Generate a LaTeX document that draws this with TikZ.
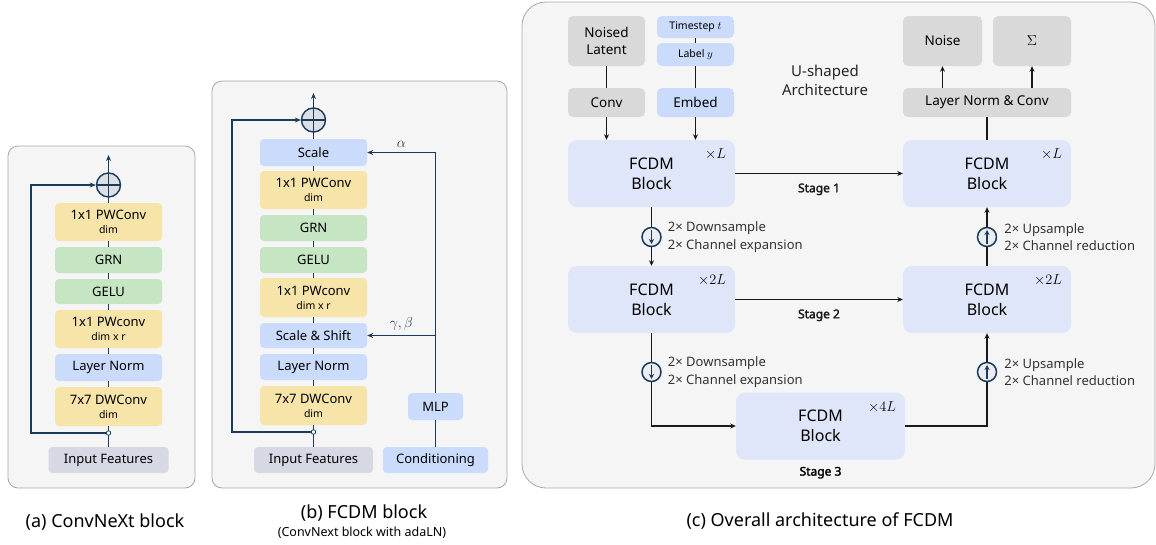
\documentclass[tikz,border=0pt]{standalone}
\usepackage{fontspec}
\setmainfont{Noto Sans}
\newfontface\stagefont{Noto Sans}[FakeBold=2.2]
\usetikzlibrary{arrows.meta, calc}
\definecolor{panelbg}{HTML}{F5F5F5}
\definecolor{panelline}{HTML}{A8A8A8}
\definecolor{convylw}{HTML}{F6E4A9}
\definecolor{actgrn}{HTML}{C6E5C2}
\definecolor{normblu}{HTML}{CADBFB}
\definecolor{fcdmblu}{HTML}{DFE6FA}
\definecolor{iogry}{HTML}{D9D9D9}
\definecolor{inpgry}{HTML}{D6D8E3}
\definecolor{navy}{HTML}{1B3A5C}
\definecolor{plusfill}{HTML}{DCDFE4}
\newcommand{\subtxt}[1]{{\fontsize{10.5}{11}\selectfont #1}}

\begin{document}
\begin{tikzpicture}[x=1pt, y=-1pt,
    box/.style={rounded corners=4pt, inner sep=0pt, align=center, minimum width=107pt, font=\fontsize{13}{14}\selectfont},
    conv/.style={box, fill=convylw, minimum height=38pt},
    act/.style={box, fill=actgrn, minimum height=26pt},
    norm/.style={box, fill=normblu, minimum height=26pt},
    inbox/.style={box, fill=inpgry, minimum width=120pt, minimum height=26pt},
    spine/.style={navy, line width=1.4pt},
    skip/.style={navy, line width=1.4pt, -{Stealth[length=6pt, width=5pt]}},
    plus/.style={circle, draw=navy, line width=1.4pt, fill=plusfill, minimum size=24pt, inner sep=0pt},
    tap/.style={circle, draw=navy, line width=0.8pt, fill=white, minimum size=4.5pt, inner sep=0pt},
    fcdm/.style={rounded corners=9pt, fill=fcdmblu, minimum width=167pt, minimum height=67pt, inner sep=0pt, align=center, font=\fontsize{16}{20}\selectfont},
    io/.style={rounded corners=5pt, fill=iogry, inner sep=0pt, align=center, font=\fontsize{13.5}{17}\selectfont},
    emb/.style={io, fill=normblu},
    flow/.style={black!90, line width=1.4pt},
    flowarr/.style={flow, -{Stealth[length=5.5pt, width=5pt]}},
    samp/.style={circle, draw=navy, line width=1.5pt, fill=plusfill!60, minimum size=19pt, inner sep=0pt},
    rep/.style={anchor=north east, inner sep=0pt, font=\fontsize{13.5}{14}\selectfont},
    stage/.style={font=\fontsize{12}{12}\stagefont},
    greek/.style={font=\fontsize{14}{14}\selectfont},
    note/.style={anchor=west, align=left, inner sep=0pt, font=\fontsize{13}{17.5}\selectfont, text=black!80},
    captxt/.style={font=\fontsize{18}{18}\selectfont}
  ]
  \useasboundingbox (0,0) rectangle (1156,544);

  % panels
  \draw[panelline, fill=panelbg, rounded corners=10pt, line width=0.8pt] (8,146) rectangle (195,488);
  \draw[panelline, fill=panelbg, rounded corners=10pt, line width=0.8pt] (212,81) rectangle (507,488);
  \draw[panelline, fill=panelbg, rounded corners=24pt, line width=0.8pt] (522,2) rectangle (1155,488);

  % (a) ConvNeXt block
  \node[conv] (pw1a) at (108.5,222) {1x1 PWConv\\\subtxt{dim}};
  \node[act] (grna) at (108.5,260) {GRN};
  \node[act, minimum height=25pt] (gelua) at (108.5,291.5) {GELU};
  \node[conv] (pw2a) at (108.5,329) {1x1 PWconv\\\subtxt{dim x r}};
  \node[norm, minimum height=27pt] (lna) at (108.5,367.5) {Layer Norm};
  \node[conv, minimum height=39pt] (dwa) at (108.5,406.5) {7x7 DWConv\\\subtxt{dim}};
  \node[inbox] (inpa) at (108.5,460) {Input Features};
  \node[plus] (plusa) at (108.5,185) {};
  \coordinate (outa) at (108.5,155);
  \coordinate (loopa) at (31,433);
  \foreach \u/\v in {inpa/dwa, dwa/lna, lna/pw2a, pw2a/gelua, gelua/grna, grna/pw1a, pw1a/plusa}
    \draw[spine] (\u) -- (\v);
  \node[tap] (tapa) at (108.5,433) {};
  \draw[skip] (tapa) -- (loopa) |- (plusa);
  \draw[spine] (plusa.north) -- (plusa.south) (plusa.west) -- (plusa.east);
  \draw[skip] (plusa.north) -- (outa);

  % (b) FCDM block
  \node[norm, minimum height=27pt] (scaleb) at (313.5,152.5) {Scale};
  \node[conv] (pw1b) at (313.5,190) {1x1 PWConv\\\subtxt{dim}};
  \node[act] (grnb) at (313.5,228) {GRN};
  \node[act] (gelub) at (313.5,260) {GELU};
  \node[conv, minimum height=39pt] (pw2b) at (313.5,297.5) {1x1 PWconv\\\subtxt{dim x r}};
  \node[norm, minimum height=25pt] (ssb) at (313.5,335.5) {Scale \& Shift};
  \node[norm] (lnb) at (313.5,367) {Layer Norm};
  \node[conv, minimum height=39pt] (dwb) at (313.5,405.5) {7x7 DWConv\\\subtxt{dim}};
  \node[inbox, minimum width=119pt] (inpb) at (313.5,460) {Input Features};
  \node[norm, minimum width=105pt] (condb) at (435.5,460) {Conditioning};
  \node[norm, minimum width=55pt, minimum height=27pt] (mlpb) at (435.5,406.5) {MLP};
  \node[plus] (plusb) at (313.5,120) {};
  \coordinate (outb) at (313.5,93);
  \coordinate (loopb) at (232,432);
  \foreach \u/\v in {inpb/dwb, dwb/lnb, lnb/ssb, ssb/pw2b, pw2b/gelub, gelub/grnb, grnb/pw1b, pw1b/scaleb, scaleb/plusb}
    \draw[spine] (\u) -- (\v);
  \node[tap] (tapb) at (313.5,432) {};
  \draw[skip] (tapb) -- (loopb) |- (plusb);
  \draw[spine] (plusb.north) -- (plusb.south) (plusb.west) -- (plusb.east);
  \draw[skip] (plusb.north) -- (outb);
  \draw[spine] (condb) -- (mlpb);
  \draw[skip] (mlpb.north) |- (scaleb.east) node[pos=0.75, above=1pt, greek] (alphab) {$\alpha$};
  \draw[skip] (mlpb.north |- ssb.east) -- (ssb.east) node[midway, above=1pt, greek] (gbb) {$\gamma, \beta$};

  % (c) overall architecture
  \node[io, minimum width=77pt, minimum height=50pt] (noised) at (606.5,41) {Noised\\Latent};
  \node[emb, minimum width=77pt, minimum height=22pt, font=\fontsize{10.5}{12}\selectfont] (tstep) at (695.5,27) {Timestep $t$};
  \node[emb, minimum width=77pt, minimum height=23pt, font=\fontsize{10.5}{12}\selectfont] (labely) at (695.5,54.5) {Label $y$};
  \node[io, minimum width=77pt, minimum height=29pt] (convc) at (606.5,102.5) {Conv};
  \node[emb, minimum width=77pt, minimum height=29pt] (embed) at (695.5,102.5) {Embed};
  \node[fcdm] (fa1) at (651.5,173.5) {FCDM\\Block};
  \node[fcdm] (fa2) at (651.5,299.5) {FCDM\\Block};
  \node[fcdm, minimum width=169pt] (fb3) at (820.5,426) {FCDM\\Block};
  \node[fcdm, minimum width=168pt] (fc2) at (987,299.5) {FCDM\\Block};
  \node[fcdm, minimum width=168pt] (fc1) at (987,173.5) {FCDM\\Block};
  \node[io, minimum width=168pt, minimum height=29pt] (headc) at (987,102.5) {Layer Norm \& Conv};
  \node[io, minimum width=79pt, minimum height=50pt] (noise) at (942.5,41) {Noise};
  \node[io, minimum width=78pt, minimum height=50pt, font=\fontsize{15}{17}\selectfont] (sigma) at (1032,41) {$\Sigma$};
  \node[align=center, font=\fontsize{15}{19}\selectfont, text=black!85] (ushape) at (825,80) {U-shaped\\Architecture};

  \foreach \blk/\n in {fa1/L, fa2/2L, fb3/4L, fc2/2L, fc1/L}
    \node[rep] (rep-\blk) at ([xshift=-9pt, yshift=-9pt]\blk.north east) {$\times \n$};

  \draw[flow] (noised) -- (convc);
  \draw[flow] (tstep) -- (labely);
  \draw[flow] (labely) -- (embed);
  \draw[flowarr] (convc) -- (convc |- fa1.north);
  \draw[flowarr] (embed) -- (embed |- fa1.north);
  \draw[flowarr] (fa1) -- (fc1) node[midway, below=6pt, stage] (st1) {Stage 1};
  \draw[flowarr] (fa2) -- (fc2) node[midway, below=6pt, stage] (st2) {Stage 2};
  \draw[flowarr] (fa1) -- (fa2);
  \draw[flowarr] (fa2) |- (fb3);
  \draw[flowarr] (fb3) -| (fc2);
  \draw[flowarr] (fc2) -- (fc1);
  \draw[flow] (fc1) -- (headc);
  \draw[flowarr] (headc.north -| noise) -- (noise);
  \draw[flowarr] (headc.north -| sigma) -- (sigma);
  \node[stage] (st3) at ([yshift=-13pt]fb3.south) {Stage 3};

  % sampling markers
  \foreach \nm/\px/\py/\dir in {ds1/651.5/237/-1, ds2/651.5/372/-1, us1/987/237/1, us2/987/372/1}{
    \node[samp] (\nm) at (\px,\py) {};
    \draw[navy, line width=1.3pt, -{Stealth[length=5pt, width=5pt]}] ([yshift=-7*\dir pt]\nm.center) -- ([yshift=7*\dir pt]\nm.center);
  }
  \node[note] (nds1) at ([xshift=6pt]ds1.east) {2× Downsample\\2× Channel expansion};
  \node[note] (nds2) at ([xshift=6pt]ds2.east) {2× Downsample\\2× Channel expansion};
  \node[note] (nus1) at ([xshift=7pt]us1.east) {2× Upsample\\2× Channel reduction};
  \node[note] (nus2) at ([xshift=7pt]us2.east) {2× Upsample\\2× Channel reduction};

  % captions
  \node[captxt] (capa) at (105,522) {(a) ConvNeXt block};
  \node[captxt] (capb) at (364,513) {(b) FCDM block};
  \node[font=\fontsize{12.5}{12.5}\selectfont] (capb2) at (362,533) {(ConvNext block with adaLN)};
  \node[captxt] (capc) at (820,521) {(c) Overall architecture of FCDM};
\end{tikzpicture}
\end{document}
